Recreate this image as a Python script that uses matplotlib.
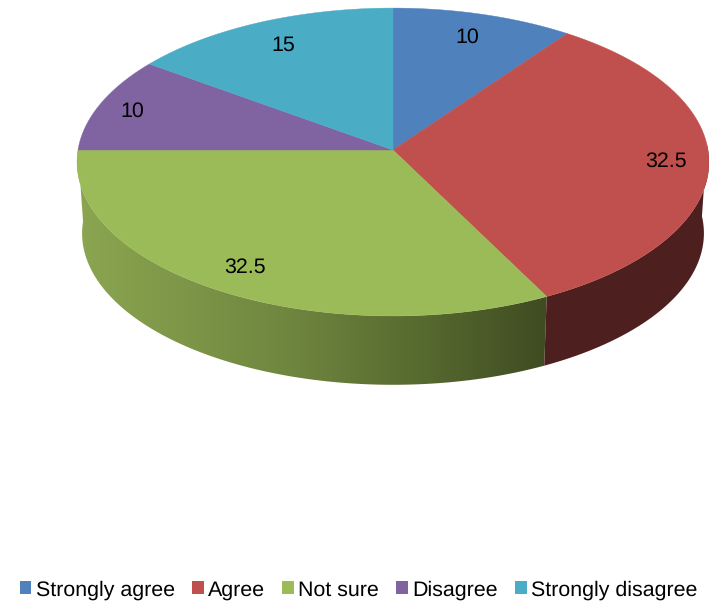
import numpy as np
import matplotlib
matplotlib.use("Agg")
import matplotlib.pyplot as plt
from matplotlib.colors import LinearSegmentedColormap
from matplotlib.patches import Patch, Polygon

plt.rcParams['font.family'] = ['Liberation Sans', 'DejaVu Sans']
plt.rcParams['text.hinting'] = 'no_hinting'

categories = ['Strongly agree', 'Agree', 'Not sure', 'Disagree', 'Strongly disagree']
values = [10, 32.5, 32.5, 10, 15]
value_labels = ['10', '32.5', '32.5', '10', '15']
colors = ['#4f81bd', '#c0504d', '#9bbb59', '#8064a2', '#4bacc6']

# where the numbers sit, in pixels
label_xy = [(467, 37), (666, 161), (245, 267), (132, 111), (283, 45)]

# pie geometry in pixels, k gives the perspective
cx, cy = 393, 150
rx, ry = 315, 153
k = 0.078
depth = 71.5
bottom_scale = 0.984


def rim(deg, scale=1.0, drop=0.0):
    t = np.radians(deg)
    w = 1 + k * np.cos(t)
    x = cx + scale * rx * np.sin(t) / w
    y = cy + drop - scale * ry * np.cos(t) / w
    return np.column_stack([x, y])


def wall(a, b):
    top = rim(np.linspace(a, b, 200))
    bottom = rim(np.linspace(b, a, 200), bottom_scale, depth)
    return np.vstack([top, bottom])


fig = plt.figure(figsize=(7.09, 6.05), dpi=100)
ax = fig.add_axes([0, 0, 1, 1])

edges = np.cumsum([0] + values) / sum(values) * 360

# side walls, only the two slices at the front show
green_wall = Polygon(wall(edges[2], edges[3]), closed=True, fc='none', ec='none')
ax.add_patch(green_wall)
green_cmap = LinearSegmentedColormap.from_list(
    'side', [(0, '#8ba651'), (0.45, '#6f863f'), (0.75, '#55682e'), (1, '#3f4b22')])
grad = np.linspace(0, 1, 256).reshape(1, -1)
im = ax.imshow(grad, cmap=green_cmap, extent=(77, 548, 400, 140), aspect='auto', zorder=1)
im.set_clip_path(green_wall)

ax.add_patch(Polygon(wall(88, edges[2]), closed=True, fc='#4e1f1f', ec='none', zorder=1))

# top face
for i in range(len(values)):
    arc = rim(np.linspace(edges[i], edges[i + 1], 200))
    pts = np.vstack([[cx, cy], arc])
    ax.add_patch(Polygon(pts, closed=True, fc=colors[i], ec=colors[i], lw=0.3, zorder=2))

for (x, y), txt in zip(label_xy, value_labels):
    ax.text(x, y, txt, fontsize=15.4, color='black', ha='center', va='center', zorder=3)

ax.set_xlim(0, 709)
ax.set_ylim(605, 0)
ax.axis('off')

handles = [Patch(fc=c, ec='none') for c in colors]
ax.legend(handles, categories, loc='center', bbox_to_anchor=(358.5 / 709, 1 - 590 / 605),
          ncol=5, frameon=False, fontsize=15.4, handlelength=0.55, handleheight=0.55,
          handletextpad=0.2, columnspacing=0.8, borderpad=0, borderaxespad=0)

fig.savefig('out.png', dpi=100)
